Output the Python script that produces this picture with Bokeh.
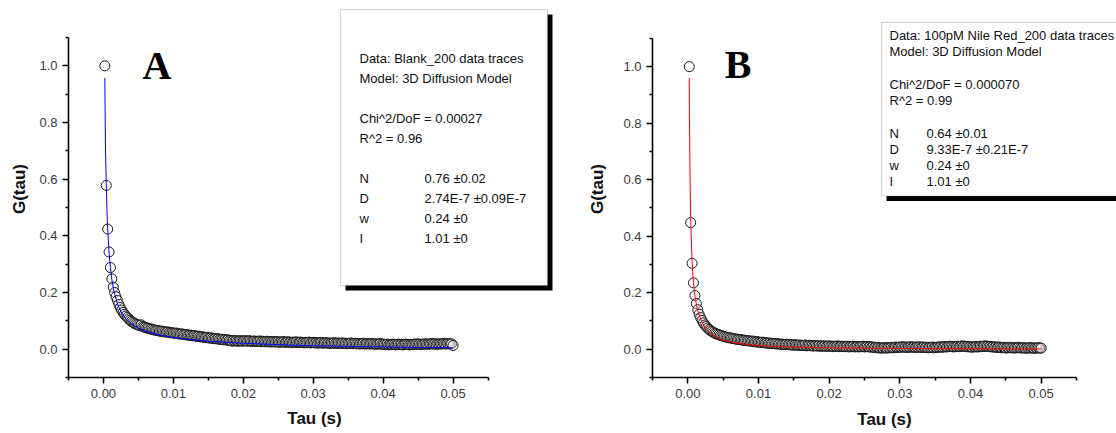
from bokeh.plotting import figure
from bokeh.layouts import row
from bokeh.models import (ColumnDataSource, FixedTicker, PrintfTickFormatter,
                          Label, BoxAnnotation, Range1d)
from bokeh.embed import file_html
from bokeh.resources import INLINE

# ---------------- data ----------------
TAU_S = [
    0.0002, 0.0004, 0.0006, 0.0008, 0.0010, 0.0012, 0.0014, 0.0016, 0.0018, 0.0020,
    0.0022, 0.0024, 0.0026, 0.0028, 0.0030, 0.0032, 0.0034, 0.0036, 0.0038, 0.0040,
    0.0042, 0.0044, 0.0046, 0.0048, 0.0050, 0.0052, 0.0054, 0.0056, 0.0058, 0.0060,
    0.0062, 0.0064, 0.0066, 0.0068, 0.0070, 0.0072, 0.0074, 0.0076, 0.0078, 0.0080,
    0.0082, 0.0084, 0.0086, 0.0088, 0.0090, 0.0092, 0.0094, 0.0096, 0.0098, 0.0100,
    0.0102, 0.0104, 0.0106, 0.0108, 0.0110, 0.0112, 0.0114, 0.0116, 0.0118, 0.0120,
    0.0122, 0.0124, 0.0126, 0.0128, 0.0130, 0.0132, 0.0134, 0.0136, 0.0138, 0.0140,
    0.0142, 0.0144, 0.0146, 0.0148, 0.0150, 0.0152, 0.0154, 0.0156, 0.0158, 0.0160,
    0.0162, 0.0164, 0.0166, 0.0168, 0.0170, 0.0172, 0.0174, 0.0176, 0.0178, 0.0180,
    0.0182, 0.0184, 0.0186, 0.0188, 0.0190, 0.0192, 0.0194, 0.0196, 0.0198, 0.0200,
    0.0202, 0.0204, 0.0206, 0.0208, 0.0210, 0.0212, 0.0214, 0.0216, 0.0218, 0.0220,
    0.0222, 0.0224, 0.0226, 0.0228, 0.0230, 0.0232, 0.0234, 0.0236, 0.0238, 0.0240,
    0.0242, 0.0244, 0.0246, 0.0248, 0.0250, 0.0252, 0.0254, 0.0256, 0.0258, 0.0260,
    0.0262, 0.0264, 0.0266, 0.0268, 0.0270, 0.0272, 0.0274, 0.0276, 0.0278, 0.0280,
    0.0282, 0.0284, 0.0286, 0.0288, 0.0290, 0.0292, 0.0294, 0.0296, 0.0298, 0.0300,
    0.0302, 0.0304, 0.0306, 0.0308, 0.0310, 0.0312, 0.0314, 0.0316, 0.0318, 0.0320,
    0.0322, 0.0324, 0.0326, 0.0328, 0.0330, 0.0332, 0.0334, 0.0336, 0.0338, 0.0340,
    0.0342, 0.0344, 0.0346, 0.0348, 0.0350, 0.0352, 0.0354, 0.0356, 0.0358, 0.0360,
    0.0362, 0.0364, 0.0366, 0.0368, 0.0370, 0.0372, 0.0374, 0.0376, 0.0378, 0.0380,
    0.0382, 0.0384, 0.0386, 0.0388, 0.0390, 0.0392, 0.0394, 0.0396, 0.0398, 0.0400,
    0.0402, 0.0404, 0.0406, 0.0408, 0.0410, 0.0412, 0.0414, 0.0416, 0.0418, 0.0420,
    0.0422, 0.0424, 0.0426, 0.0428, 0.0430, 0.0432, 0.0434, 0.0436, 0.0438, 0.0440,
    0.0442, 0.0444, 0.0446, 0.0448, 0.0450, 0.0452, 0.0454, 0.0456, 0.0458, 0.0460,
    0.0462, 0.0464, 0.0466, 0.0468, 0.0470, 0.0472, 0.0474, 0.0476, 0.0478, 0.0480,
    0.0482, 0.0484, 0.0486, 0.0488, 0.0490, 0.0492, 0.0494, 0.0496, 0.0498, 0.0500,
]

G_BLANK = [
    1.000, 0.578, 0.424, 0.343, 0.288, 0.248, 0.219, 0.200, 0.185, 0.172,
    0.158, 0.147, 0.138, 0.130, 0.123, 0.117, 0.112, 0.107, 0.102, 0.098,
    0.095, 0.092, 0.089, 0.087, 0.085, 0.083, 0.086, 0.080, 0.078, 0.077,
    0.075, 0.074, 0.072, 0.071, 0.070, 0.068, 0.067, 0.066, 0.066, 0.064,
    0.063, 0.064, 0.062, 0.061, 0.060, 0.061, 0.059, 0.058, 0.058, 0.057,
    0.056, 0.057, 0.055, 0.054, 0.053, 0.054, 0.052, 0.051, 0.052, 0.050,
    0.049, 0.050, 0.048, 0.047, 0.048, 0.046, 0.045, 0.046, 0.044, 0.043,
    0.044, 0.042, 0.041, 0.042, 0.040, 0.039, 0.040, 0.038, 0.037, 0.038,
    0.036, 0.037, 0.035, 0.034, 0.035, 0.033, 0.034, 0.032, 0.033, 0.031,
    0.030, 0.028, 0.031, 0.029, 0.030, 0.028, 0.029, 0.030, 0.028, 0.029,
    0.030, 0.029, 0.028, 0.030, 0.029, 0.027, 0.028, 0.029, 0.027, 0.028,
    0.027, 0.029, 0.026, 0.028, 0.027, 0.026, 0.028, 0.026, 0.027, 0.025,
    0.027, 0.026, 0.025, 0.027, 0.026, 0.024, 0.026, 0.025, 0.027, 0.024,
    0.025, 0.026, 0.024, 0.025, 0.023, 0.025, 0.024, 0.026, 0.023, 0.024,
    0.025, 0.023, 0.024, 0.022, 0.024, 0.023, 0.025, 0.022, 0.023, 0.024,
    0.022, 0.023, 0.021, 0.023, 0.022, 0.024, 0.021, 0.022, 0.023, 0.021,
    0.022, 0.020, 0.022, 0.021, 0.023, 0.020, 0.021, 0.022, 0.020, 0.021,
    0.022, 0.020, 0.021, 0.019, 0.021, 0.020, 0.022, 0.019, 0.020, 0.021,
    0.019, 0.020, 0.018, 0.020, 0.019, 0.021, 0.018, 0.019, 0.020, 0.018,
    0.019, 0.020, 0.018, 0.019, 0.017, 0.019, 0.018, 0.020, 0.017, 0.018,
    0.017, 0.016, 0.018, 0.015, 0.017, 0.016, 0.018, 0.017, 0.015, 0.017,
    0.018, 0.016, 0.017, 0.015, 0.016, 0.018, 0.017, 0.016, 0.015, 0.017,
    0.016, 0.018, 0.017, 0.019, 0.017, 0.018, 0.016, 0.018, 0.017, 0.019,
    0.018, 0.017, 0.019, 0.018, 0.020, 0.018, 0.019, 0.017, 0.019, 0.018,
    0.019, 0.018, 0.020, 0.019, 0.018, 0.020, 0.019, 0.018, 0.019, 0.013,
]

G_NILE = [
    1.000, 0.448, 0.304, 0.235, 0.190, 0.162, 0.140, 0.124, 0.112, 0.102,
    0.093, 0.086, 0.080, 0.075, 0.070, 0.066, 0.063, 0.060, 0.057, 0.055,
    0.053, 0.051, 0.049, 0.048, 0.046, 0.045, 0.043, 0.042, 0.041, 0.040,
    0.039, 0.038, 0.037, 0.036, 0.035, 0.035, 0.034, 0.033, 0.032, 0.032,
    0.031, 0.030, 0.030, 0.029, 0.028, 0.029, 0.027, 0.026, 0.027, 0.025,
    0.025, 0.024, 0.025, 0.023, 0.022, 0.023, 0.021, 0.022, 0.020, 0.021,
    0.020, 0.019, 0.020, 0.018, 0.019, 0.017, 0.018, 0.017, 0.016, 0.018,
    0.016, 0.017, 0.015, 0.016, 0.014, 0.016, 0.015, 0.014, 0.015, 0.013,
    0.014, 0.013, 0.015, 0.012, 0.013, 0.014, 0.012, 0.013, 0.011, 0.013,
    0.012, 0.011, 0.013, 0.010, 0.012, 0.011, 0.012, 0.010, 0.011, 0.012,
    0.010, 0.011, 0.009, 0.011, 0.010, 0.012, 0.009, 0.010, 0.011, 0.009,
    0.010, 0.009, 0.011, 0.008, 0.010, 0.009, 0.011, 0.008, 0.009, 0.010,
    0.008, 0.010, 0.009, 0.011, 0.008, 0.009, 0.010, 0.008, 0.009, 0.007,
    0.008, 0.006, 0.007, 0.005, 0.006, 0.004, 0.005, 0.004, 0.006, 0.005,
    0.004, 0.006, 0.005, 0.007, 0.005, 0.006, 0.008, 0.006, 0.007, 0.008,
    0.007, 0.009, 0.007, 0.008, 0.006, 0.008, 0.007, 0.009, 0.007, 0.008,
    0.006, 0.008, 0.007, 0.009, 0.006, 0.007, 0.008, 0.006, 0.007, 0.005,
    0.007, 0.006, 0.008, 0.005, 0.007, 0.006, 0.008, 0.007, 0.009, 0.007,
    0.008, 0.010, 0.008, 0.009, 0.011, 0.009, 0.010, 0.008, 0.010, 0.009,
    0.011, 0.009, 0.010, 0.012, 0.010, 0.011, 0.009, 0.010, 0.008, 0.009,
    0.007, 0.009, 0.008, 0.010, 0.008, 0.009, 0.011, 0.009, 0.010, 0.012,
    0.010, 0.011, 0.009, 0.010, 0.008, 0.009, 0.007, 0.008, 0.006, 0.008,
    0.007, 0.005, 0.007, 0.006, 0.004, 0.006, 0.005, 0.007, 0.005, 0.006,
    0.004, 0.006, 0.005, 0.007, 0.005, 0.004, 0.006, 0.005, 0.003, 0.005,
    0.004, 0.006, 0.004, 0.005, 0.003, 0.005, 0.004, 0.006, 0.004, 0.004,
]

FIT_TAU_S = [0.0002, 0.00025, 0.0003, 0.0004, 0.0005, 0.0006, 0.0008, 0.0010,
             0.0012, 0.0015, 0.0020, 0.0025, 0.0030, 0.0040, 0.0050, 0.0060,
             0.0080, 0.0100, 0.0125, 0.0150, 0.0200, 0.0250, 0.0300, 0.0350,
             0.0400, 0.0450, 0.0500]
FIT_BLANK = [0.957, 0.800, 0.700, 0.585, 0.490, 0.425, 0.343, 0.288,
             0.245, 0.205, 0.160, 0.132, 0.113, 0.089, 0.074, 0.064,
             0.050, 0.041, 0.034, 0.028, 0.021, 0.016, 0.012, 0.010,
             0.008, 0.006, 0.005]
FIT_NILE = [0.960, 0.760, 0.640, 0.470, 0.390, 0.310, 0.235, 0.190,
            0.160, 0.128, 0.095, 0.075, 0.061, 0.042, 0.032, 0.026,
            0.018, 0.013, 0.010, 0.008, 0.005, 0.004, 0.003, 0.002,
            0.0015, 0.001, 0.001]

X_MAJOR = [0.0, 0.01, 0.02, 0.03, 0.04, 0.05]
X_MINOR = [-0.005, 0.005, 0.015, 0.025, 0.035, 0.045, 0.055]
Y_MAJOR = [0.0, 0.2, 0.4, 0.6, 0.8, 1.0]
Y_MINOR = [-0.1, 0.1, 0.3, 0.5, 0.7, 0.9, 1.1]

BOX_A = [("Data: Blank_200 data traces", ""), ("Model: 3D Diffusion Model", ""), ("", ""),
         ("Chi^2/DoF = 0.00027", ""), ("R^2 = 0.96", ""), ("", ""),
         ("N", "0.76 \u00b10.02"), ("D", "2.74E-7 \u00b10.09E-7"),
         ("w", "0.24 \u00b10"), ("I", "1.01 \u00b10")]
BOX_B = [("Data: 100pM Nile Red_200 data traces", ""), ("Model: 3D Diffusion Model", ""), ("", ""),
         ("Chi^2/DoF = 0.000070", ""), ("R^2 =  0.99", ""), ("", ""),
         ("N", "0.64 \u00b10.01"), ("D", "9.33E-7 \u00b10.21E-7"),
         ("w", "0.24 \u00b10"), ("I", "1.01 \u00b10")]

X_LO, X_HI = -0.005, 0.055
Y_LO, Y_HI = -0.1, 1.1
H = 433
FONT = "Liberation Sans"


def build(g, fit_g, fit_color, letter, box_lines, geo):
    W, L, XR, YT, B = geo["W"], geo["L"], geo["XR"], geo["YT"], geo["B"]
    kx = (XR - L) / (X_HI - X_LO)
    ky = (B - YT) / (Y_HI - Y_LO)
    x_end = X_LO + (W - L) / kx
    y_end = Y_LO + B / ky

    def fx(px):
        return X_LO + (px - L) / kx

    def fy(py):
        return Y_LO + (B - py) / ky

    p = figure(width=W, height=H, x_range=Range1d(X_LO, x_end), y_range=Range1d(Y_LO, y_end),
               output_backend="svg", toolbar_location=None, title=None,
               min_border_left=L, min_border_right=0, min_border_top=0, min_border_bottom=H - B)
    p.outline_line_color = None
    p.background_fill_color = "white"
    p.border_fill_color = "white"
    p.xgrid.visible = False
    p.ygrid.visible = False

    for ax, maj, mnr, fmt, bnd in ((p.xaxis[0], X_MAJOR, X_MINOR, "%.2f", (X_LO, X_HI)),
                                   (p.yaxis[0], Y_MAJOR, Y_MINOR, "%.1f", (Y_LO, Y_HI))):
        ax.ticker = FixedTicker(ticks=maj, minor_ticks=mnr)
        ax.formatter = PrintfTickFormatter(format=fmt)
        ax.bounds = bnd
        ax.axis_line_color = "black"
        ax.axis_line_width = 1.6
        ax.major_tick_line_color = "black"
        ax.major_tick_line_width = 1.6
        ax.minor_tick_line_color = "black"
        ax.minor_tick_line_width = 1.6
        ax.major_tick_out = 6
        ax.major_tick_in = 0
        ax.minor_tick_out = 3
        ax.minor_tick_in = 0
        ax.major_label_text_font = FONT
        ax.major_label_text_font_size = "13px"
        ax.major_label_text_color = "#3a3a3a"
        ax.major_label_standoff = 5
        ax.axis_label_text_font = FONT
        ax.axis_label_text_font_style = "bold"
        ax.axis_label_text_font_size = "17px"
        ax.axis_label_text_color = "#111111"
    p.xaxis[0].axis_label = "Tau (s)"
    p.yaxis[0].axis_label = "G(tau)"
    p.xaxis[0].axis_label_standoff = geo["xstand"]
    p.yaxis[0].axis_label_standoff = geo["ystand"]

    src = ColumnDataSource(dict(tau=TAU_S, g=g))
    p.scatter("tau", "g", source=src, marker="circle", size=10,
              fill_color="white", fill_alpha=0.3, line_color="#1a1a1a", line_width=1)
    fsrc = ColumnDataSource(dict(tau=FIT_TAU_S, g=fit_g))
    p.line("tau", "g", source=fsrc, line_color=fit_color, line_width=1)

    # big panel letter
    p.add_layout(Label(x=fx(geo["lx"]), y=fy(geo["ly"]), text=letter, text_align="center",
                       text_baseline="alphabetic", text_font="Liberation Serif",
                       text_font_style="bold", text_font_size="40px", text_color="black"))

    # results box with shadow
    bl, bt, br, bb, sh = geo["box"]
    p.add_layout(BoxAnnotation(left=fx(bl + sh), right=fx(br + sh), top=fy(bt + sh), bottom=fy(bb + sh),
                               fill_color="black", fill_alpha=1.0, line_color=None))
    p.add_layout(BoxAnnotation(left=fx(bl), right=fx(br), top=fy(bt), bottom=fy(bb),
                               fill_color="white", fill_alpha=1.0, line_color="#707070",
                               line_width=1.2))
    tx, vx, y0, dy = geo["text"]
    for i, (name, val) in enumerate(box_lines):
        yy = fy(y0 + i * dy)
        if name:
            p.add_layout(Label(x=fx(tx), y=yy, text=name, text_font=FONT, text_font_size="13px",
                               text_baseline="middle", text_color="#111111"))
        if val:
            p.add_layout(Label(x=fx(vx), y=yy, text=val, text_font=FONT, text_font_size="13px",
                               text_baseline="middle", text_color="#111111"))
    return p


GEO_A = dict(W=560, L=68, XR=487.5, YT=37, B=377, xstand=8, ystand=7,
             lx=156.5, ly=65, box=(340, 9, 547, 285, 5), text=(359, 424, 58, 20))
GEO_B = dict(W=556, L=92, XR=516, YT=38, B=378, xstand=9, ystand=13,
             lx=177.5, ly=64, box=(321, 22, 580, 196, 5), text=(329, 366, 35, 16.33))

pA = build(G_BLANK, FIT_BLANK, "#0000ff", "A", BOX_A, GEO_A)
pB = build(G_NILE, FIT_NILE, "#ff0000", "B", BOX_B, GEO_B)

layout = row(pA, pB)
open("out.html", "w").write(file_html(layout, INLINE))
